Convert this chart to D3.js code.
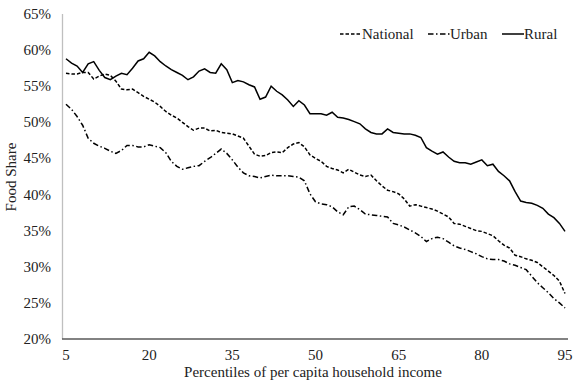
<!DOCTYPE html>
<html>
<head>
<meta charset="utf-8">
<script src="https://cdn.jsdelivr.net/npm/d3@7"></script>
<style>
  body { margin: 0; background: #fff; }
  text { font-family: "Liberation Serif", "DejaVu Serif", serif; fill: #222; }
</style>
</head>
<body>
<div id="chart"></div>
<script>
// size of svg
const width = 581; const height = 380;
const fontSize = 15;

// percentiles 5..95
const percentiles = d3.range(5, 96);
const xTicks = [5, 20, 35, 50, 65, 80, 95];
const yTicks = [20, 25, 30, 35, 40, 45, 50, 55, 60, 65];

// food share (%)
const national = [56.8, 56.7, 56.7, 56.9, 56.9, 56.0, 56.4, 56.7, 56.5, 55.7,
  54.6, 54.5, 54.6, 54.1, 53.6, 53.2, 52.8, 52.2, 51.5, 51.0,
  50.6, 50.0, 49.4, 48.9, 49.2, 49.2, 48.8, 48.9, 48.6, 48.5,
  48.4, 48.1, 47.8, 46.7, 45.6, 45.3, 45.4, 45.8, 45.9, 45.8,
  46.5, 47.0, 47.2, 46.6, 45.5, 45.0, 44.6, 43.9, 43.6, 43.4,
  43.0, 43.5, 43.1, 42.7, 42.5, 42.7, 41.9, 41.2, 40.6, 40.4,
  40.1, 39.4, 38.4, 38.6, 38.4, 38.2, 38.0, 37.7, 37.3, 36.9,
  36.0, 35.9, 35.6, 35.3, 35.0, 34.9, 34.6, 34.3, 33.6, 33.0,
  32.6, 31.6, 31.4, 31.1, 30.9, 30.6, 30.0, 29.4, 28.8, 28.0, 26.3];
const urban = [52.5, 51.8, 50.8, 49.6, 47.8, 47.1, 46.7, 46.4, 46.0, 45.7,
  46.1, 46.8, 46.8, 46.6, 46.6, 46.9, 46.7, 46.5, 45.8, 44.6,
  43.9, 43.5, 43.7, 43.9, 44.0, 44.6, 45.1, 45.7, 46.3, 45.7,
  44.8, 43.8, 43.0, 42.6, 42.5, 42.3, 42.5, 42.7, 42.6, 42.6,
  42.6, 42.5, 42.4, 41.9, 40.1, 39.0, 38.7, 38.6, 38.3, 37.6,
  37.2, 38.3, 38.4, 37.9, 37.3, 37.2, 37.1, 37.0, 36.9, 36.0,
  35.8, 35.5, 35.1, 34.7, 34.2, 33.5, 33.9, 34.1, 33.9, 33.4,
  32.9, 32.6, 32.4, 32.1, 31.8, 31.4, 31.1, 31.0, 31.0, 30.8,
  30.4, 30.2, 29.9, 29.6, 28.7, 27.8, 27.1, 26.4, 25.6, 25.0, 24.3];
const rural = [58.8, 58.2, 57.8, 56.9, 58.1, 58.4, 57.2, 56.2, 55.9, 56.4,
  56.8, 56.6, 57.5, 58.5, 58.8, 59.7, 59.2, 58.4, 57.8, 57.3,
  56.9, 56.5, 55.9, 56.3, 57.1, 57.4, 56.9, 56.8, 58.1, 57.3,
  55.5, 55.8, 55.6, 55.2, 54.9, 53.2, 53.5, 55.0, 54.3, 53.8,
  53.1, 52.2, 53.0, 52.4, 51.2, 51.2, 51.2, 51.0, 51.4, 50.7,
  50.6, 50.4, 50.1, 49.8, 49.1, 48.6, 48.4, 48.4, 49.1, 48.6,
  48.5, 48.4, 48.4, 48.2, 47.9, 46.5, 46.0, 45.6, 45.9, 45.2,
  44.6, 44.4, 44.4, 44.2, 44.5, 44.8, 44.0, 44.2, 43.2, 42.6,
  41.9, 40.4, 39.1, 38.9, 38.8, 38.5, 38.1, 37.3, 36.8, 36.0, 34.9];

const seriesNames = ["National", "Urban", "Rural"];
const seriesValues = [national, urban, rural];
const seriesDash = ["3.5,2", "5.5,2.5,1.5,2.5", null];

let svg = d3.select('#chart')
    .append('svg')
        .attr('width', width)
        .attr('height', height);

const x_scale = d3.scaleLinear().domain([5, 95]).range([66, 565]);
const y_scale = d3.scaleLinear().domain([20, 65]).range([339, 14]);

// y tick labels
svg.append('g')
    .selectAll('text')
    .data(yTicks)
    .join('text')
        .attr('x', 51)
        .attr('y', d => y_scale(d) + 5)
        .attr('text-anchor', 'end')
        .attr('font-size', fontSize)
        .text(d => d + '%');

// x tick labels
svg.append('g')
    .selectAll('text')
    .data(xTicks)
    .join('text')
        .attr('x', d => x_scale(d))
        .attr('y', 360)
        .attr('text-anchor', 'middle')
        .attr('font-size', fontSize)
        .text(d => d);

// axis lines
svg.append('line')
    .attr('x1', 62.5).attr('x2', 62.5)
    .attr('y1', 14).attr('y2', 339)
    .attr('stroke', '#bfbfbf').attr('stroke-width', 1.3);
svg.append('line')
    .attr('x1', 62).attr('x2', 568)
    .attr('y1', 339).attr('y2', 339)
    .attr('stroke', '#595959').attr('stroke-width', 1.3);

// axis titles
svg.append('text')
    .attr('transform', 'translate(16, 177) rotate(-90)')
    .attr('text-anchor', 'middle')
    .attr('font-size', fontSize)
    .text('Food Share');
svg.append('text')
    .attr('x', 313)
    .attr('y', 376.5)
    .attr('text-anchor', 'middle')
    .attr('font-size', fontSize)
    .text('Percentiles of per capita household income');

// lines
const line = d3.line()
    .x((d, i) => x_scale(percentiles[i]))
    .y(d => y_scale(d));

seriesValues.forEach(function(vals, k){
    svg.append('path')
        .datum(vals)
        .attr('d', line)
        .attr('fill', 'none')
        .attr('stroke', '#000')
        .attr('stroke-width', 1.5)
        .attr('stroke-dasharray', seriesDash[k]);
});

// legend
const legendX = [340, 428, 502];
const legend = svg.append('g');
seriesNames.forEach(function(name, k){
    legend.append('line')
        .attr('x1', legendX[k]).attr('x2', legendX[k] + 22)
        .attr('y1', 34).attr('y2', 34)
        .attr('stroke', '#000')
        .attr('stroke-width', 1.5)
        .attr('stroke-dasharray', seriesDash[k]);
    legend.append('text')
        .attr('x', legendX[k] + 22)
        .attr('y', 39)
        .attr('font-size', fontSize)
        .text(name);
});
</script>
</body>
</html>
